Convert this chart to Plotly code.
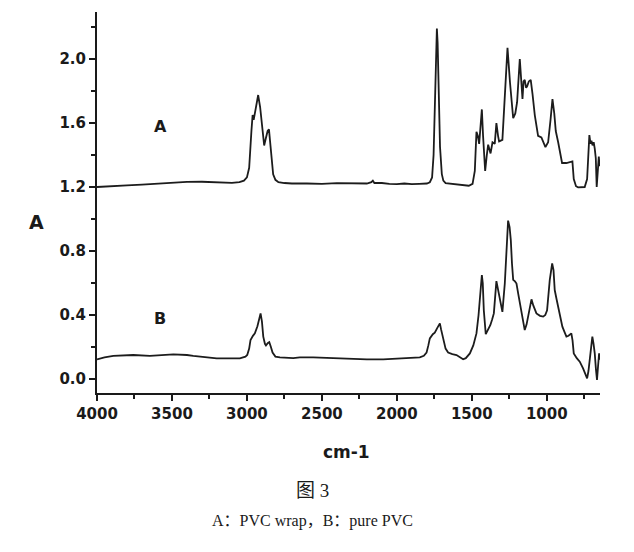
import plotly.graph_objects as go

# Spectrum A: PVC wrap (offset baseline ~1.2)
A_wn = [4000, 3900, 3800, 3700, 3600, 3500, 3400, 3300, 3200, 3150, 3100, 3050, 3020, 3000,
        2985, 2970, 2962, 2955, 2940, 2925, 2912, 2900, 2885, 2875, 2862, 2853, 2840, 2825,
        2810, 2790, 2750, 2700, 2600, 2500, 2400, 2300, 2200, 2170, 2160, 2150, 2100, 2050,
        2000, 1950, 1900, 1850, 1800, 1780, 1765, 1755, 1745, 1738, 1733, 1728, 1720, 1712,
        1700, 1690, 1675, 1650, 1600, 1560, 1520, 1495, 1480, 1469, 1460, 1451, 1440, 1433,
        1425, 1411, 1400, 1391, 1375, 1362, 1347, 1336, 1325, 1318, 1296, 1280, 1262, 1245,
        1224, 1210, 1198, 1180, 1170, 1162, 1155, 1147, 1138, 1131, 1120, 1107, 1095, 1080,
        1058, 1036, 1009, 991, 975, 962, 950, 940, 924, 910, 898, 869, 840, 829, 820, 805,
        791, 770, 747, 731, 722, 716, 708, 702, 695, 687, 680, 673, 667, 660, 653, 648]
A_abs = [1.200, 1.203, 1.210, 1.215, 1.222, 1.228, 1.232, 1.233, 1.228, 1.225, 1.226, 1.230, 1.240, 1.260,
         1.320, 1.550, 1.650, 1.620, 1.700, 1.775, 1.700, 1.580, 1.460, 1.500, 1.550, 1.560, 1.420, 1.280,
         1.245, 1.230, 1.225, 1.222, 1.222, 1.220, 1.224, 1.222, 1.222, 1.230, 1.240, 1.225, 1.225, 1.220,
         1.218, 1.222, 1.218, 1.220, 1.222, 1.230, 1.260, 1.400, 1.750, 2.120, 2.190, 2.100, 1.800, 1.450,
         1.280, 1.240, 1.225, 1.222, 1.220, 1.212, 1.208, 1.220, 1.300, 1.545, 1.520, 1.470, 1.600, 1.685,
         1.520, 1.300, 1.400, 1.465, 1.410, 1.480, 1.470, 1.600, 1.520, 1.485, 1.495, 1.780, 2.070, 1.850,
         1.630, 1.660, 1.730, 2.000, 1.850, 1.750, 1.860, 1.870, 1.820, 1.830, 1.860, 1.870, 1.780, 1.650,
         1.520, 1.510, 1.450, 1.480, 1.620, 1.750, 1.660, 1.550, 1.480, 1.420, 1.350, 1.350, 1.360, 1.360, 1.250, 1.205,
         1.198, 1.198, 1.200, 1.250, 1.400, 1.525, 1.470, 1.490, 1.460, 1.480, 1.440, 1.380, 1.200, 1.300, 1.390, 1.330]

# Spectrum B: pure PVC
B_wn = [4000, 3950, 3891, 3758, 3647, 3491, 3400, 3358, 3202, 3100, 3047, 3010, 2998, 2985,
        2976, 2960, 2947, 2930, 2918, 2909, 2900, 2891, 2880, 2873, 2860, 2851, 2840, 2829,
        2810, 2780, 2691, 2647, 2558, 2424, 2300, 2200, 2091, 2000, 1900, 1847, 1820, 1802,
        1790, 1780, 1760, 1747, 1730, 1718, 1713, 1705, 1691, 1675, 1658, 1630, 1602, 1580,
        1558, 1540, 1513, 1490, 1469, 1455, 1447, 1433, 1427, 1420, 1407, 1395, 1376, 1365,
        1353, 1336, 1325, 1318, 1305, 1296, 1280, 1268, 1258, 1248, 1240, 1232, 1224, 1212,
        1202, 1190, 1176, 1160, 1147, 1135, 1124, 1110, 1102, 1090, 1069, 1045, 1024, 1010,
        998, 980, 970, 964, 955, 947, 935, 924, 910, 896, 880, 869, 855, 843, 836, 828,
        820, 800, 780, 758, 745, 731, 722, 713, 705, 696, 688, 680, 672, 665, 658, 651, 648]
B_abs = [0.123, 0.135, 0.144, 0.150, 0.144, 0.154, 0.150, 0.144, 0.129, 0.128, 0.129, 0.140, 0.150, 0.190,
         0.244, 0.270, 0.285, 0.330, 0.390, 0.410, 0.360, 0.265, 0.220, 0.210, 0.225, 0.230, 0.200, 0.165,
         0.140, 0.135, 0.130, 0.135, 0.135, 0.129, 0.127, 0.123, 0.123, 0.127, 0.130, 0.135, 0.145, 0.165,
         0.210, 0.254, 0.280, 0.290, 0.320, 0.345, 0.348, 0.310, 0.244, 0.190, 0.165, 0.155, 0.150, 0.138,
         0.123, 0.130, 0.160, 0.210, 0.285, 0.400, 0.494, 0.650, 0.600, 0.430, 0.280, 0.300, 0.338, 0.370,
         0.410, 0.612, 0.560, 0.515, 0.450, 0.420, 0.597, 0.850, 0.990, 0.950, 0.870, 0.720, 0.620, 0.610,
         0.597, 0.530, 0.452, 0.370, 0.306, 0.340, 0.390, 0.470, 0.498, 0.460, 0.410, 0.395, 0.390, 0.400,
         0.430, 0.620, 0.690, 0.723, 0.680, 0.556, 0.500, 0.452, 0.380, 0.327, 0.290, 0.265, 0.270, 0.280, 0.285, 0.240,
         0.160, 0.130, 0.108, 0.066, 0.040, 0.004, 0.050, 0.119, 0.200, 0.265, 0.220, 0.160, 0.060, -0.006, 0.080, 0.160, 0.120]

x_ticks = [4000, 3500, 3000, 2500, 2000, 1500, 1000]
y_ticks = [0.0, 0.4, 0.8, 1.2, 1.6, 2.0]
y_tick_text = ["0.0", "0.4", "0.8", "1.2", "1.6", "2.0"]

line_color = "#1c1c1c"
fig = go.Figure()
fig.add_trace(go.Scatter(x=A_wn, y=A_abs, mode="lines", line=dict(color=line_color, width=1.8), showlegend=False))
fig.add_trace(go.Scatter(x=B_wn, y=B_abs, mode="lines", line=dict(color=line_color, width=1.8), showlegend=False))

tick_font = dict(family="DejaVu Sans", size=15, color="#1a1a1a", weight="bold")
ink = "#1a1a1a"

fig.update_layout(
    width=634, height=552,
    margin=dict(l=97, r=34, t=12, b=159),
    paper_bgcolor="white", plot_bgcolor="white",
    xaxis=dict(range=[4000, 645], tickvals=x_ticks, ticks="outside", ticklen=6, tickwidth=1.5,
               tickcolor=ink, showline=True, linecolor=ink, linewidth=2,
               showgrid=False, zeroline=False, tickfont=tick_font,
               minor=dict(tickvals=[3750, 3250, 2750, 2250, 1750, 1250, 750], ticks="outside",
                          ticklen=4, tickwidth=1.5, tickcolor=ink, showgrid=False)),
    yaxis=dict(range=[-0.0875, 2.294], tickvals=y_ticks, ticktext=y_tick_text, ticks="outside",
               ticklen=6, tickwidth=1.5, tickcolor=ink, showline=True, linecolor=ink,
               linewidth=2, showgrid=False, zeroline=False, tickfont=tick_font,
               minor=dict(tickvals=[0.2, 0.6, 1.0, 1.4, 1.8, 2.2], ticks="outside", ticklen=4,
                          tickwidth=1.5, tickcolor=ink, showgrid=False)),
    annotations=[
        dict(x=3579, y=1.58, xref="x", yref="y", text="A", showarrow=False,
             xanchor="center", yanchor="middle",
             font=dict(family="DejaVu Sans", size=16, color=ink, weight="bold")),
        dict(x=3579, y=0.38, xref="x", yref="y", text="B", showarrow=False,
             xanchor="center", yanchor="middle",
             font=dict(family="DejaVu Sans", size=16, color=ink, weight="bold")),
        dict(x=-0.121, y=0.449, xref="paper", yref="paper", text="A", showarrow=False,
             xanchor="center", yanchor="middle",
             font=dict(family="DejaVu Sans", size=19, color=ink, weight="bold")),
        dict(x=0.497, y=-0.155, xref="paper", yref="paper", text="cm-1", showarrow=False,
             xanchor="center", yanchor="middle",
             font=dict(family="DejaVu Sans", size=17, color=ink, weight="bold")),
        dict(x=0.429, y=-0.2546, xref="paper", yref="paper", text="图 3", showarrow=False,
             xanchor="center", yanchor="middle",
             font=dict(family="Liberation Serif, Noto Sans CJK SC", size=19, color=ink)),
        dict(x=0.429, y=-0.336, xref="paper", yref="paper", text="A：PVC wrap，B：pure PVC", showarrow=False,
             xanchor="center", yanchor="middle",
             font=dict(family="Liberation Serif, Noto Sans CJK SC", size=16, color=ink)),
    ],
)

fig.write_html("out.html")
